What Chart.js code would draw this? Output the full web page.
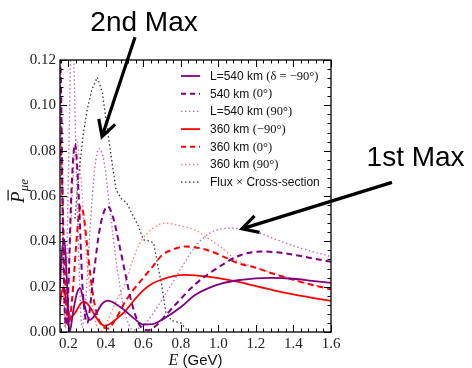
<!DOCTYPE html>
<html>
<head>
<meta charset="utf-8">
<script src="https://cdn.jsdelivr.net/npm/chart.js@4.4.1/dist/chart.umd.min.js"></script>
<style>
  body { margin: 0; background: #fff; }
  #wrap { width: 472px; height: 368px; }
</style>
</head>
<body>
<div id="wrap"><canvas id="chart_canvas" width="472" height="368"></canvas></div>
<script>
// values
var xTicks = [0.2, 0.4, 0.6, 0.8, 1.0, 1.2, 1.4, 1.6];
var yTicks = [0.00, 0.02, 0.04, 0.06, 0.08, 0.10, 0.12];

// L=540 km, delta = -90
var eL540m90 = [0.155, 0.165, 0.178, 0.192, 0.206, 0.225, 0.245, 0.262, 0.285, 0.313, 0.35, 0.38, 0.41, 0.45, 0.5, 0.55, 0.6, 0.65, 0.715, 0.8, 0.875, 0.95, 1.02, 1.12, 1.2, 1.28, 1.4, 1.5, 1.6];
var pL540m90 = [0.020, 0.035, 0.041, 0.022, 0.000, 0.009, 0.017, 0.0193, 0.012, 0.0053, 0.0085, 0.0125, 0.0138, 0.0125, 0.0095, 0.006, 0.0033, 0.0035, 0.0062, 0.011, 0.0163, 0.0195, 0.0215, 0.023, 0.0237, 0.0239, 0.0235, 0.0226, 0.0217];
// 540 km, delta = 0
var eL540d0 = [0.155, 0.162, 0.17, 0.18, 0.19, 0.2, 0.215, 0.235, 0.255, 0.275, 0.3, 0.33, 0.36, 0.385, 0.41, 0.44, 0.47, 0.5, 0.54, 0.58, 0.625, 0.67, 0.72, 0.77, 0.875, 1.02, 1.12, 1.23, 1.35, 1.47, 1.6];
var pL540d0 = [0.13, 0.10, 0.05, 0.01, 0.003, 0.02, 0.06, 0.083, 0.06, 0.02, 0.004, 0.022, 0.042, 0.052, 0.0554, 0.050, 0.039, 0.027, 0.012, 0.003, 0.0008, 0.003, 0.0075, 0.012, 0.021, 0.0296, 0.034, 0.0355, 0.0348, 0.033, 0.031];
// L=540 km, delta = 90
var eL540p90 = [0.155, 0.168, 0.182, 0.2, 0.219, 0.24, 0.258, 0.273, 0.29, 0.315, 0.34, 0.364, 0.39, 0.42, 0.46, 0.5, 0.545, 0.6, 0.65, 0.7, 0.75, 0.8, 0.875, 0.95, 1.0, 1.08, 1.2, 1.3, 1.4, 1.5, 1.6];
var pL540p90 = [0.13, 0.06, 0.002, 0.07, 0.14, 0.08, 0.025, 0.002, 0.012, 0.045, 0.072, 0.081, 0.075, 0.055, 0.028, 0.009, 0.001, 0.003, 0.008, 0.0145, 0.021, 0.028, 0.0375, 0.0435, 0.0452, 0.0458, 0.0442, 0.041, 0.038, 0.0355, 0.0333];
// 360 km, delta = -90
var eL360m90 = [0.155, 0.163, 0.172, 0.19, 0.213, 0.24, 0.265, 0.286, 0.31, 0.34, 0.37, 0.393, 0.42, 0.46, 0.5, 0.55, 0.6, 0.65, 0.7, 0.76, 0.82, 0.9, 1.0, 1.1, 1.2, 1.3, 1.4, 1.5, 1.6];
var pL360m90 = [0.012, 0.017, 0.0195, 0.013, 0.0066, 0.009, 0.0125, 0.0134, 0.0115, 0.0075, 0.004, 0.0026, 0.0035, 0.006, 0.009, 0.014, 0.0185, 0.0215, 0.0232, 0.0246, 0.0252, 0.0248, 0.0238, 0.0222, 0.0202, 0.0183, 0.0166, 0.0151, 0.0137];
// 360 km, delta = 0
var eL360d0 = [0.155, 0.165, 0.175, 0.188, 0.2, 0.22, 0.24, 0.256, 0.267, 0.28, 0.3, 0.32, 0.34, 0.37, 0.41, 0.45, 0.5, 0.55, 0.6, 0.65, 0.7, 0.75, 0.82, 0.9, 0.964, 1.02, 1.1, 1.2, 1.28, 1.37, 1.46, 1.6];
var pL360d0 = [0.085, 0.07, 0.04, 0.012, 0.003, 0.015, 0.037, 0.052, 0.0554, 0.052, 0.038, 0.023, 0.012, 0.004, 0.0015, 0.0055, 0.013, 0.019, 0.024, 0.029, 0.034, 0.0362, 0.0377, 0.037, 0.0355, 0.0335, 0.0305, 0.0283, 0.026, 0.0238, 0.0216, 0.0188];
// 360 km, delta = 90
var eL360p90 = [0.155, 0.165, 0.175, 0.185, 0.2, 0.22, 0.243, 0.265, 0.29, 0.32, 0.35, 0.373, 0.41, 0.44, 0.47, 0.5, 0.54, 0.576, 0.62, 0.67, 0.71, 0.78, 0.875, 0.95, 1.02, 1.1, 1.2, 1.28, 1.37, 1.46, 1.6];
var pL360p90 = [0.11, 0.06, 0.02, 0.002, 0.02, 0.06, 0.085, 0.07, 0.04, 0.015, 0.003, 0.0005, 0.005, 0.011, 0.0163, 0.021, 0.031, 0.0385, 0.0435, 0.0468, 0.048, 0.0472, 0.045, 0.041, 0.037, 0.0315, 0.0285, 0.0262, 0.024, 0.0218, 0.019];
// flux x cross-section
var eFlux = [0.235, 0.245, 0.26, 0.28, 0.3, 0.325, 0.354, 0.38, 0.4, 0.427, 0.453, 0.48, 0.51, 0.542, 0.57, 0.6, 0.64, 0.655, 0.675, 0.697, 0.72, 0.75, 0.8, 0.82, 0.84];
var pFlux = [0.05, 0.06, 0.073, 0.088, 0.098, 0.107, 0.1124, 0.106, 0.094, 0.078, 0.063, 0.059, 0.057, 0.0517, 0.0473, 0.0407, 0.04, 0.039, 0.03, 0.0208, 0.0085, 0.005, 0.004, 0.002, 0.0];

var seriesLabels = [
    ["L=540 km ", "(\u03b4 = \u221290\u00b0)"],
    ["540 km ", "(0\u00b0)"],
    ["L=540 km ", "(90\u00b0)"],
    ["360 km ", "(\u221290\u00b0)"],
    ["360 km ", "(0\u00b0)"],
    ["360 km ", "(90\u00b0)"],
    ["Flux ", "\u00d7", " Cross-section"]
];

function pts(xs, ys) {
    return xs.map(function (x, i) { return {x: x, y: ys[i]}; });
}

var PURPLE = '#800080', PURPLE_L = 'rgba(128,0,128,0.55)';
var RED = '#ff0000', RED_L = 'rgba(255,0,0,0.5)';
var DASH = [6, 4], DOT = [1.5, 2.5];

function ds(i, xs, ys, color, dash, width) {
    return {
        label: seriesLabels[i].join(''),
        data: pts(xs, ys),
        borderColor: color,
        borderDash: dash,
        borderWidth: width,
        pointRadius: 0,
        fill: false,
        cubicInterpolationMode: 'monotone',
        clip: 0
    };
}

var datasets = [
    ds(0, eL540m90, pL540m90, PURPLE, [], 1.8),
    ds(1, eL540d0, pL540d0, PURPLE, DASH, 2),
    ds(2, eL540p90, pL540p90, PURPLE_L, DOT, 1.4),
    ds(3, eL360m90, pL360m90, RED, [], 1.8),
    ds(4, eL360d0, pL360d0, RED, DASH, 2),
    ds(5, eL360p90, pL360p90, RED_L, DOT, 1.4),
    ds(6, eFlux, pFlux, 'rgba(0,0,0,0.8)', DOT, 1.3)
];
datasets[6].cubicInterpolationMode = 'default';
datasets[6].tension = 0;

// annotations in data coordinates
var notes = [
    {text: "2nd Max", at: [0.603, 0.133], from: [0.555, 0.130], to: [0.379, 0.0862]},
    {text: "1st Max", at: [2.051, 0.0734], from: [1.925, 0.066], to: [1.125, 0.0455]}
];

var frame = {
    id: 'frame',
    afterDatasetsDraw: function (chart) {
        var ctx = chart.ctx, a = chart.chartArea;
        var xs = chart.scales.x, ys = chart.scales.y;
        ctx.save();
        ctx.strokeStyle = '#000';
        ctx.lineWidth = 1.3;
        ctx.strokeRect(a.left, a.top, a.right - a.left, a.bottom - a.top);
        ctx.lineWidth = 1;
        ctx.beginPath();
        var v, p, len;
        for (var k = 4; k <= 40; k++) {
            v = k * 0.04;
            if (v < xs.min || v > xs.max + 1e-9) continue;
            p = Math.round(xs.getPixelForValue(v)) + 0.5;
            len = (k % 5 === 0) ? 7 : 3.5;
            ctx.moveTo(p, a.bottom); ctx.lineTo(p, a.bottom - len);
            ctx.moveTo(p, a.top); ctx.lineTo(p, a.top + len);
        }
        for (k = 0; k <= 30; k++) {
            v = k * 0.004;
            p = Math.round(ys.getPixelForValue(v)) + 0.5;
            len = (k % 5 === 0) ? 7 : 3.5;
            ctx.moveTo(a.left, p); ctx.lineTo(a.left + len, p);
            ctx.moveTo(a.right, p); ctx.lineTo(a.right - len, p);
        }
        ctx.stroke();
        ctx.restore();
    },
    afterDraw: function (chart) {
        var ctx = chart.ctx, a = chart.chartArea;
        var xs = chart.scales.x, ys = chart.scales.y;
        ctx.save();

        // legend
        var sans = '12px "Liberation Sans", Arial, sans-serif';
        var serif = '12.5px "Liberation Serif", serif';
        datasets.forEach(function (d, i) {
            var y = 76 + i * 17.7;
            ctx.strokeStyle = d.borderColor;
            ctx.lineWidth = d.borderWidth;
            ctx.setLineDash(d.borderDash === DASH ? [5, 4] : d.borderDash);
            ctx.beginPath();
            ctx.moveTo(181, y); ctx.lineTo(200, y);
            ctx.stroke();
            ctx.setLineDash([]);
            var x = 210;
            ctx.fillStyle = '#111';
            ctx.textBaseline = 'middle';
            seriesLabels[i].forEach(function (part, j) {
                ctx.font = (j % 2 === 0) ? sans : serif;
                ctx.fillText(part, x, y + 0.5);
                x += ctx.measureText(part).width;
            });
        });

        // axis titles
        ctx.fillStyle = '#111';
        ctx.textBaseline = 'alphabetic';
        var t1 = 'E', t2 = ' (GeV)';
        ctx.font = 'italic 16px "Liberation Serif", serif';
        var w1 = ctx.measureText(t1).width;
        ctx.font = '15px "Liberation Sans", Arial, sans-serif';
        var w2 = ctx.measureText(t2).width;
        var cx = (a.left + a.right) / 2 - (w1 + w2) / 2;
        ctx.font = 'italic 16px "Liberation Serif", serif';
        ctx.fillText(t1, cx, 365);
        ctx.font = '15px "Liberation Sans", Arial, sans-serif';
        ctx.fillText(t2, cx + w1, 365);

        ctx.save();
        ctx.translate(24, 191);
        ctx.rotate(-Math.PI / 2);
        ctx.font = 'italic 19px "Liberation Serif", serif';
        var pw = ctx.measureText('P').width;
        ctx.font = 'italic 13px "Liberation Serif", serif';
        var sw = ctx.measureText('\u03bce').width;
        var sx = -(pw + sw) / 2;
        ctx.font = 'italic 19px "Liberation Serif", serif';
        ctx.fillText('P', sx, 0);
        ctx.fillRect(sx + 2.5, -16.5, pw - 1, 1.2);
        ctx.font = 'italic 13px "Liberation Serif", serif';
        ctx.fillText('\u03bce', sx + pw, 4);
        ctx.restore();

        // annotations
        notes.forEach(function (n) {
            var tx = xs.getPixelForValue(n.at[0]), ty = ys.getPixelForValue(n.at[1]);
            ctx.font = '28px "Liberation Sans", Arial, sans-serif';
            ctx.textAlign = 'center';
            ctx.fillStyle = '#000';
            ctx.fillText(n.text, tx, ty);
            var x0 = xs.getPixelForValue(n.from[0]), y0 = ys.getPixelForValue(n.from[1]);
            var x1 = xs.getPixelForValue(n.to[0]), y1 = ys.getPixelForValue(n.to[1]);
            var ang = Math.atan2(y1 - y0, x1 - x0);
            ctx.strokeStyle = '#000';
            ctx.lineWidth = 3.2;
            ctx.lineCap = 'butt';
            ctx.beginPath();
            ctx.moveTo(x0, y0); ctx.lineTo(x1, y1);
            ctx.moveTo(x1 - 18 * Math.cos(ang - 0.5), y1 - 18 * Math.sin(ang - 0.5));
            ctx.lineTo(x1, y1);
            ctx.lineTo(x1 - 18 * Math.cos(ang + 0.5), y1 - 18 * Math.sin(ang + 0.5));
            ctx.stroke();
        });
        ctx.restore();
    }
};

var tickFont = {family: '"Liberation Serif", serif', size: 15};

var ctx = document.getElementById("chart_canvas").getContext('2d');
var chart = new Chart(ctx, {
    type: 'line',
    data: {datasets: datasets},
    options: {
        responsive: false,
        animation: false,
        layout: {padding: {top: 60, right: 141, left: 0, bottom: 0}},
        plugins: {legend: {display: false}, tooltip: {enabled: false}},
        scales: {
            x: {
                type: 'linear',
                min: 0.155,
                max: 1.6,
                grid: {display: false, drawTicks: false},
                border: {display: false},
                afterBuildTicks: function (s) { s.ticks = xTicks.map(function (v) { return {value: v}; }); },
                afterFit: function (s) { s.height = 36; },
                ticks: {
                    font: tickFont, color: '#222', padding: 3, maxRotation: 0,
                    callback: function (v) { return v.toFixed(1); }
                }
            },
            y: {
                type: 'linear',
                min: 0,
                max: 0.12,
                grid: {display: false, drawTicks: false},
                border: {display: false},
                afterBuildTicks: function (s) { s.ticks = yTicks.map(function (v) { return {value: v}; }); },
                afterFit: function (s) { s.width = 60; },
                ticks: {
                    font: tickFont, color: '#222', padding: 4,
                    callback: function (v) { return v.toFixed(2); }
                }
            }
        }
    },
    plugins: [frame]
});
</script>
</body>
</html>
